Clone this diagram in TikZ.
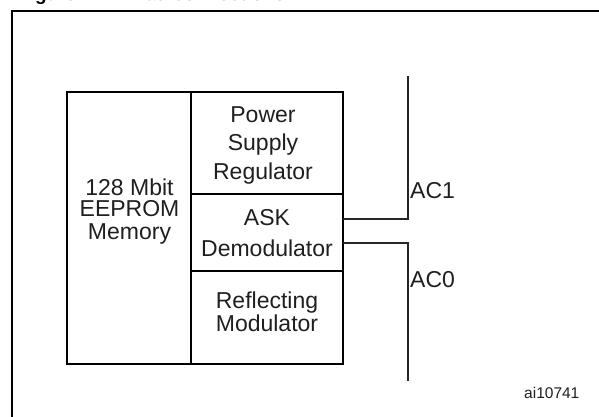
\documentclass[tikz,border=0pt]{standalone}
\usepackage{fontspec}
\setmainfont{Liberation Sans}
\begin{document}
\begin{tikzpicture}[x=1pt,y=-1pt,
  box/.style={draw=black, line width=2pt, rectangle, inner sep=0pt, outer sep=0pt},
  wire/.style={line width=1.3pt, draw=black!85},
  lbl/.style={font=\fontsize{23}{23}\selectfont, inner sep=0pt, text=black!88, anchor=base},
  pin/.style={font=\fontsize{23}{23}\selectfont, inner sep=0pt, text=black!88, anchor=base west},
  ttl/.style={font=\fontsize{19}{19}\selectfont\bfseries, inner sep=0pt, anchor=base west},
]
\useasboundingbox (0,0) rectangle (599,417);
% clipped caption
\begin{scope}
  \clip (0,0) rectangle (599,10);
  \node[ttl] (fig) at (18,1) {Figure 1.};
  \node[ttl] (cap) at (133,1) {Pad connections};
\end{scope}
% frame
\draw[line width=2pt] (11.7,418) -- (11.7,11) -- (600,11);
% blocks
\node[box, minimum width=124pt, minimum height=272pt] (mem) at (129,228) {};
\node[box, minimum width=152pt, minimum height=102pt] (psr) at (267,143) {};
\node[box, minimum width=152pt, minimum height=77pt] (ask) at (267,232.5) {};
\node[box, minimum width=152pt, minimum height=93pt] (ref) at (267,317.5) {};
% texts
\node[lbl] (m1) at (129.5,195) {128 Mbit};
\node[lbl] (m2) at (129.5,216.7) {EEPROM};
\node[lbl] (m3) at (129.5,239) {Memory};
\node[lbl] (p1) at (263,122.7) {Power};
\node[lbl] (p2) at (263,150) {Supply};
\node[lbl] (p3) at (263,179) {Regulator};
\node[lbl] (a1) at (267,225.7) {ASK};
\node[lbl] (a2) at (267,256.7) {Demodulator};
\node[lbl] (r1) at (267,308.3) {Reflecting};
\node[lbl] (r2) at (267,331.7) {Modulator};
% antenna pads
\coordinate (ac1top) at (408,76);
\coordinate (ac0bot) at (408,381);
\draw[wire] ([yshift=13.5pt]ask.east) -| (ac1top);
\draw[wire] ([yshift=-10.5pt]ask.east) -| (ac0bot);
\node[pin] (ac1) at (410,198) {AC1};
\node[pin] (ac0) at (410,287.5) {AC0};
\node[inner sep=0pt, anchor=base west, font=\fontsize{15.5}{15.5}\selectfont, text=black!88] (id) at (524,398) {ai10741};
\end{tikzpicture}
\end{document}
